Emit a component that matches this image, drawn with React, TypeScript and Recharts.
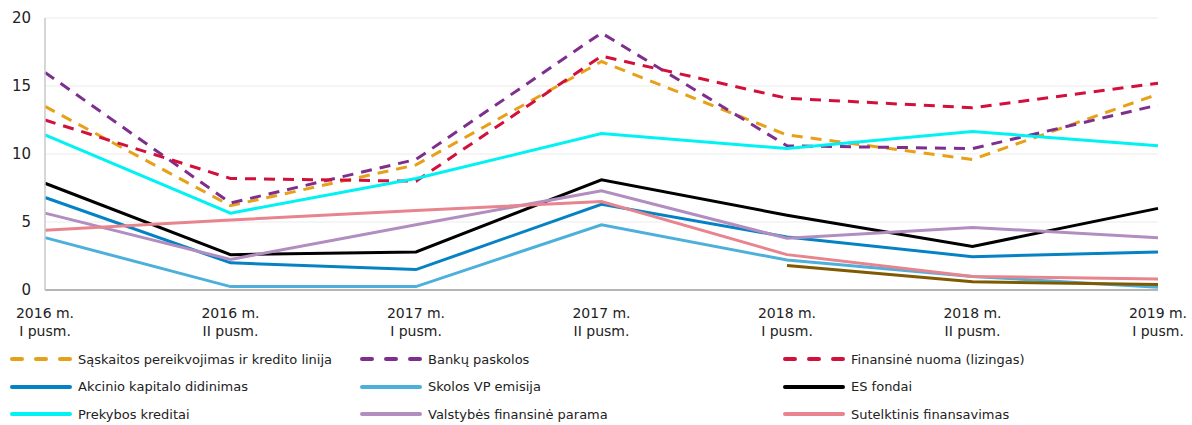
import { LineChart, Line, XAxis, YAxis, CartesianGrid } from "recharts";

const FONT = "'DejaVu Sans', Verdana, sans-serif";

const periods = ["2016 m.|I pusm.", "2016 m.|II pusm.", "2017 m.|I pusm.", "2017 m.|II pusm.", "2018 m.|I pusm.", "2018 m.|II pusm.", "2019 m.|I pusm."];
const yTicks = [0, 5, 10, 15, 20];

const saskaitos = [13.5, 6.2, 9.2, 16.8, 11.4, 9.6, 14.4];
const bankuPaskolos = [16.0, 6.4, 9.6, 18.9, 10.6, 10.4, 13.6];
const lizingas = [12.5, 8.2, 8.0, 17.2, 14.1, 13.4, 15.2];
const akcinio = [6.8, 2.0, 1.5, 6.3, 3.9, 2.45, 2.8];
const skolosVP = [3.85, 0.25, 0.25, 4.8, 2.2, 1.0, 0.2];
const esFondai = [7.85, 2.6, 2.8, 8.1, 5.5, 3.2, 6.0];
const prekybos = [11.4, 5.65, 8.2, 11.5, 10.4, 11.65, 10.6];
const valstybes = [5.65, 2.25, 4.8, 7.3, 3.8, 4.6, 3.85];
const sutelktinis = [4.4, 5.15, 5.85, 6.5, 2.6, 1.0, 0.8];
const kita = [null, null, null, null, 1.8, 0.6, 0.4];

const series = [
  { key: "s1", name: "Sąskaitos pereikvojimas ir kredito linija", values: saskaitos, color: "#E6A118", dashed: true },
  { key: "s2", name: "Bankų paskolos", values: bankuPaskolos, color: "#7E2F8E", dashed: true },
  { key: "s3", name: "Finansinė nuoma (lizingas)", values: lizingas, color: "#D2103C", dashed: true },
  { key: "s4", name: "Akcinio kapitalo didinimas", values: akcinio, color: "#0582C3", dashed: false },
  { key: "s5", name: "Skolos VP emisija", values: skolosVP, color: "#4DB0DB", dashed: false },
  { key: "s6", name: "ES fondai", values: esFondai, color: "#000000", dashed: false },
  { key: "s7", name: "Prekybos kreditai", values: prekybos, color: "#00F2F2", dashed: false },
  { key: "s8", name: "Valstybės finansinė parama", values: valstybes, color: "#B28DBF", dashed: false },
  { key: "s9", name: "Sutelktinis finansavimas", values: sutelktinis, color: "#E8848E", dashed: false },
  { key: "s10", name: "", values: kita, color: "#7F5A00", dashed: false },
];

const data = periods.map((p, i) => {
  const row: Record<string, any> = { period: p };
  series.forEach((s) => { row[s.key] = s.values[i]; });
  return row;
});

const legendCols = [10, 360, 783];

function PeriodTick({ x, y, payload }: any) {
  const [a, b] = String(payload.value).split("|");
  return (
    <text x={x} y={y} textAnchor="middle" fill="#222" fontSize={14} fontFamily={FONT}>
      <tspan x={x} dy={20}>{a}</tspan>
      <tspan x={x} dy={18}>{b}</tspan>
    </text>
  );
}

export default function App() {
  const legendItems = series.filter((s) => s.name);
  return (
    <div style={{ position: "absolute", left: 0, top: 0, width: 1192, height: 425, background: "#fff", fontFamily: FONT }}>
      <LineChart width={1192} height={345} data={data} margin={{ top: 18, right: 34, left: 0, bottom: 0 }}>
        <CartesianGrid stroke="#ebebeb" vertical={false} />
        <XAxis dataKey="period" tick={<PeriodTick />} tickLine={false} axisLine={{ stroke: "#b5b5b5", strokeWidth: 2 }} interval={0} height={55} />
        <YAxis domain={[0, 20]} ticks={yTicks} tick={{ fill: "#222", fontSize: 15, fontFamily: FONT }} tickLine={false} axisLine={{ stroke: "#c8c8c8", strokeWidth: 1.5 }} width={45} tickMargin={8} />
        {series.map((s) => (
          <Line
            key={s.key}
            dataKey={s.key}
            name={s.name}
            type="linear"
            stroke={s.color}
            strokeWidth={3}
            strokeDasharray={s.dashed ? "11 8" : undefined}
            dot={false}
            activeDot={false}
            connectNulls={false}
            isAnimationActive={false}
          />
        ))}
      </LineChart>
      {legendItems.map((s, i) => {
        const col = i % 3;
        const row = Math.floor(i / 3);
        return (
          <div key={s.key} style={{ position: "absolute", left: legendCols[col], top: 350 + row * 27.5, height: 18, display: "flex", alignItems: "center", fontSize: 13, color: "#222", whiteSpace: "nowrap" }}>
            <svg width={62} height={10} style={{ marginRight: 6 }}>
              <line x1={2} y1={5} x2={60} y2={5} stroke={s.color} strokeWidth={4} strokeLinecap="round" strokeDasharray={s.dashed ? "10 14" : undefined} />
            </svg>
            {s.name}
          </div>
        );
      })}
    </div>
  );
}
